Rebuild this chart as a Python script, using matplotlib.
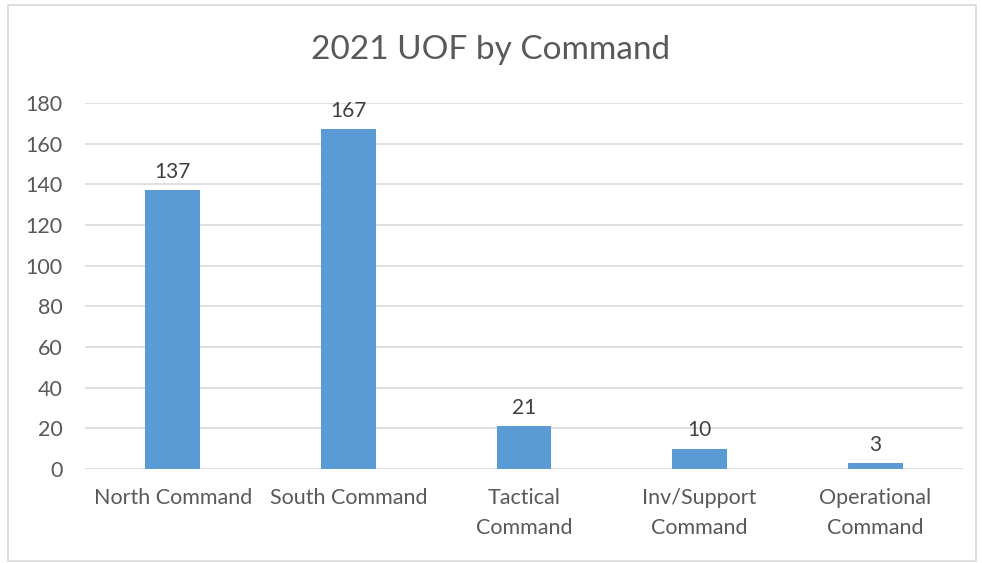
from matplotlib import pyplot as plt
from matplotlib.patches import Rectangle

commands = ['North Command', 'South Command', 'Tactical\nCommand',
            'Inv/Support\nCommand', 'Operational\nCommand']
uof_counts = [137, 167, 21, 10, 3]
yticks = [0, 20, 40, 60, 80, 100, 120, 140, 160, 180]

txt = '#595959'
plt.rcParams['font.family'] = ['Lato', 'DejaVu Sans']

fig = plt.figure(figsize=(9.82, 5.63), dpi=100)
ax = fig.add_axes([85/982, 1 - 469/563, 878/982, 366/563])

x = range(len(commands))
bars = ax.bar(x, uof_counts, width=0.313, color='#5B9BD5', zorder=3)
for b, v in zip(bars, uof_counts):
    ax.annotate(str(v), (b.get_x() + b.get_width()/2, v), xytext=(0, 6),
                textcoords='offset points', ha='center', va='bottom',
                fontsize=15, color='#404040')

ax.set_xlim(-0.5, len(commands) - 0.5)
ax.set_ylim(0, 180)
ax.set_yticks(yticks)
ax.set_xticks(list(x))
ax.set_xticklabels(commands, fontsize=15.5, color=txt, linespacing=1.6)
ax.tick_params(axis='y', labelsize=15.5, labelcolor=txt, length=0, pad=16)
ax.tick_params(axis='x', length=0, pad=14)
ax.grid(axis='y', color='#D9D9D9', linewidth=1.2, zorder=0)
for s in ax.spines.values():
    s.set_visible(False)

fig.text(0.5, 1 - 50/563, '2021 UOF by Command', ha='center', va='center',
         fontsize=24, color=txt)

fig.patches.append(Rectangle((8/982, 1 - 561/563), 968/982, 556/563,
                             transform=fig.transFigure, fill=False,
                             edgecolor='#D9D9D9', linewidth=1.2))

fig.savefig('out.png')
